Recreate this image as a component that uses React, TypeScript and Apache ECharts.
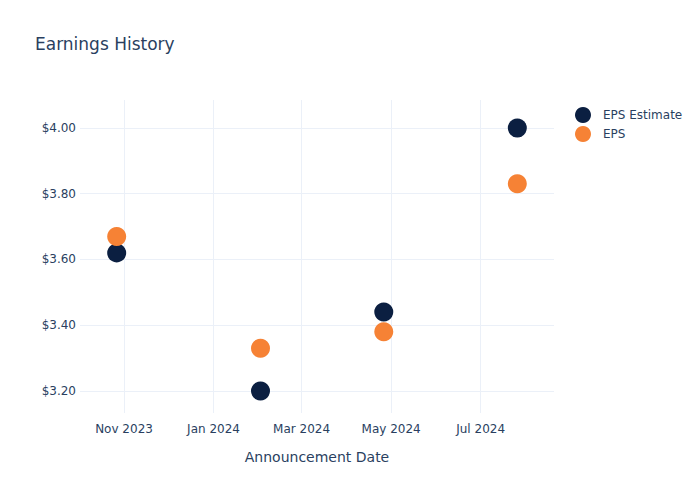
import React, { useEffect, useRef } from "react";
import * as echarts from "echarts";

const dates = ["2023-10-27", "2024-02-02", "2024-04-26", "2024-07-26"];
const epsEstimate = [3.62, 3.2, 3.44, 4.0];
const epsActual = [3.67, 3.33, 3.38, 3.83];
const xTickDates = ["2023-11-01", "2024-01-01", "2024-03-01", "2024-05-01", "2024-07-01"];
const xTickLabels = ["Nov 2023", "Jan 2024", "Mar 2024", "May 2024", "Jul 2024"];
const yTicks = [3.2, 3.4, 3.6, 3.8, 4.0];

const toTs = (s: string) => {
  const [y, m, d] = s.split("-").map(Number);
  return Date.UTC(y, m - 1, d);
};

export default function App() {
  const ref = useRef<HTMLDivElement>(null);
  useEffect(() => {
    if (!ref.current) return;
    const chart = echarts.init(ref.current, undefined, { renderer: "svg" });
    const xTicks = xTickDates.map(toTs);
    const text = "#2a3f5f";
    const font = "'DejaVu Sans', sans-serif";
    chart.setOption({
      animation: false,
      backgroundColor: "#fff",
      title: {
        text: "Earnings History",
        left: 30,
        top: 30,
        textStyle: { color: text, fontSize: 17, fontWeight: "normal", fontFamily: font },
      },
      legend: {
        orient: "vertical",
        left: 570,
        top: 102,
        itemWidth: 16,
        itemHeight: 16,
        itemGap: 3,
        icon: "circle",
        textStyle: { color: text, fontSize: 12, fontFamily: font, padding: [0, 0, 0, 7] },
        data: ["EPS Estimate", "EPS"],
      },
      grid: { left: 80, right: 146, top: 100, bottom: 87, containLabel: false },
      xAxis: {
        type: "value",
        min: toTs("2023-10-02"),
        max: toTs("2024-08-20"),
        name: "Announcement Date",
        nameLocation: "middle",
        nameGap: 37,
        nameTextStyle: { color: text, fontSize: 14, fontFamily: font },
        axisLine: { show: false },
        axisTick: { show: false, customValues: xTicks },
        axisLabel: {
          customValues: xTicks,
          color: text,
          fontSize: 12,
          fontFamily: font,
          margin: 10,
          formatter: (v: number) => {
            const i = xTicks.indexOf(v);
            return i >= 0 ? xTickLabels[i] : "";
          },
        },
        splitLine: { show: true, lineStyle: { color: "#EBF0F8", width: 1 } },
      },
      yAxis: {
        type: "value",
        min: 3.133,
        max: 4.085,
        axisLine: { show: false },
        axisTick: { show: false, customValues: yTicks },
        axisLabel: {
          customValues: yTicks,
          color: text,
          fontSize: 12,
          fontFamily: font,
          margin: 4,
          formatter: (v: number) => "$" + v.toFixed(2),
        },
        splitLine: { show: true, lineStyle: { color: "#EBF0F8", width: 1 } },
      },
      series: [
        {
          name: "EPS Estimate",
          type: "scatter",
          symbolSize: 19,
          itemStyle: { color: "#0b1f41", opacity: 1 },
          data: dates.map((d, i) => [toTs(d), epsEstimate[i]]),
        },
        {
          name: "EPS",
          type: "scatter",
          symbolSize: 19,
          itemStyle: { color: "#f68235", opacity: 1 },
          data: dates.map((d, i) => [toTs(d), epsActual[i]]),
        },
      ],
    });
    return () => chart.dispose();
  }, []);
  return (
    <div
      ref={ref}
      style={{ width: 700, height: 500, position: "absolute", left: 0, top: 0 }}
    />
  );
}
